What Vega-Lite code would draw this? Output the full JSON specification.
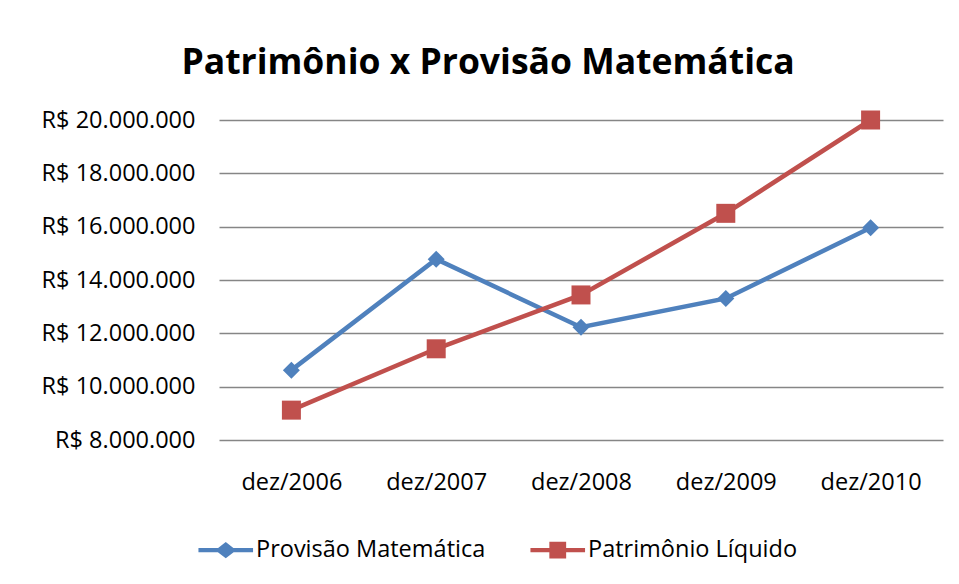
{
  "$schema": "https://vega.github.io/schema/vega-lite/v6.json",
  "width": 724,
  "height": 320,
  "autosize": {"type": "none"},
  "padding": {"left": 219, "top": 120, "right": 16, "bottom": 144},
  "background": "white",
  "title": {
    "text": "Patrimônio x Provisão Matemática",
    "font": "Open Sans",
    "fontSize": 35.5,
    "fontWeight": "bold",
    "color": "black",
    "anchor": "middle",
    "frame": "bounds",
    "dx": -4,
    "offset": 27
  },
  "config": {
    "locale": {"number": {"decimal": ",", "thousands": ".", "grouping": [3], "currency": ["R$ ", ""]}},
    "view": {"stroke": null},
    "font": "Open Sans"
  },
  "data": {
    "values": [
      {"periodo": "dez/2006", "serie": "Provisão Matemática", "valor": 10620000},
      {"periodo": "dez/2007", "serie": "Provisão Matemática", "valor": 14780000},
      {"periodo": "dez/2008", "serie": "Provisão Matemática", "valor": 12230000},
      {"periodo": "dez/2009", "serie": "Provisão Matemática", "valor": 13310000},
      {"periodo": "dez/2010", "serie": "Provisão Matemática", "valor": 15960000},
      {"periodo": "dez/2006", "serie": "Patrimônio Líquido", "valor": 9120000},
      {"periodo": "dez/2007", "serie": "Patrimônio Líquido", "valor": 11420000},
      {"periodo": "dez/2008", "serie": "Patrimônio Líquido", "valor": 13440000},
      {"periodo": "dez/2009", "serie": "Patrimônio Líquido", "valor": 16500000},
      {"periodo": "dez/2010", "serie": "Patrimônio Líquido", "valor": 20000000}
    ]
  },
  "encoding": {
    "x": {
      "field": "periodo",
      "type": "ordinal",
      "sort": ["dez/2006", "dez/2007", "dez/2008", "dez/2009", "dez/2010"],
      "axis": {
        "title": null,
        "labelAngle": 0,
        "domain": false,
        "ticks": false,
        "grid": false,
        "labelFontSize": 23.5,
        "labelColor": "black",
        "labelFont": "Open Sans",
        "labelPadding": 30
      }
    },
    "y": {
      "field": "valor",
      "type": "quantitative",
      "scale": {"domain": [8000000, 20000000], "zero": false, "nice": false},
      "axis": {
        "title": null,
        "values": [8000000, 10000000, 12000000, 14000000, 16000000, 18000000, 20000000],
        "format": "$,.0f",
        "domain": false,
        "ticks": false,
        "grid": true,
        "gridColor": "#868686",
        "gridWidth": 1.3,
        "labelFontSize": 23.5,
        "labelColor": "black",
        "labelFont": "Open Sans",
        "labelPadding": 24,
        "labelLimit": 300
      }
    }
  },
  "layer": [
    {
      "mark": {"type": "line", "strokeWidth": 4.5},
      "encoding": {
        "color": {
          "field": "serie",
          "type": "nominal",
          "scale": {"domain": ["Provisão Matemática", "Patrimônio Líquido"], "range": ["#4F81BD", "#C0504D"]},
          "legend": {
            "title": null,
            "orient": "none",
            "legendX": -25,
            "legendY": 418,
            "direction": "horizontal",
            "symbolSize": 196,
            "symbolOffset": 20,
            "labelOffset": 18.5,
            "labelFontSize": 23.5,
            "labelFont": "Open Sans",
            "labelColor": "black",
            "labelLimit": 400,
            "columnPadding": 40,
            "padding": 0,
            "symbolStrokeWidth": 0,
            "encode": {
              "symbols": {
                "update": {
                  "shape": {"signal": "datum.value === 'Provisão Matemática' ? 'M-3.9,-0.32H3.9V0.32H-3.9Z M0,-1.15L1.5,0L0,1.15L-1.5,0Z' : 'M-3.9,-0.32H3.9V0.32H-3.9Z M-1.2,-1.2H1.2V1.2H-1.2Z'"},
                  "fill": {"signal": "datum.value === 'Provisão Matemática' ? '#4F81BD' : '#C0504D'"},
                  "stroke": {"value": "transparent"},
                  "opacity": {"value": 1}
                }
              }
            }
          }
        }
      }
    },
    {
      "transform": [{"filter": "datum.serie === 'Provisão Matemática'"}],
      "mark": {"type": "point", "shape": "diamond", "filled": true, "size": 289, "opacity": 1, "color": "#4F81BD"}
    },
    {
      "transform": [{"filter": "datum.serie === 'Patrimônio Líquido'"}],
      "mark": {"type": "point", "shape": "square", "filled": true, "size": 361, "opacity": 1, "color": "#C0504D"}
    }
  ]
}
